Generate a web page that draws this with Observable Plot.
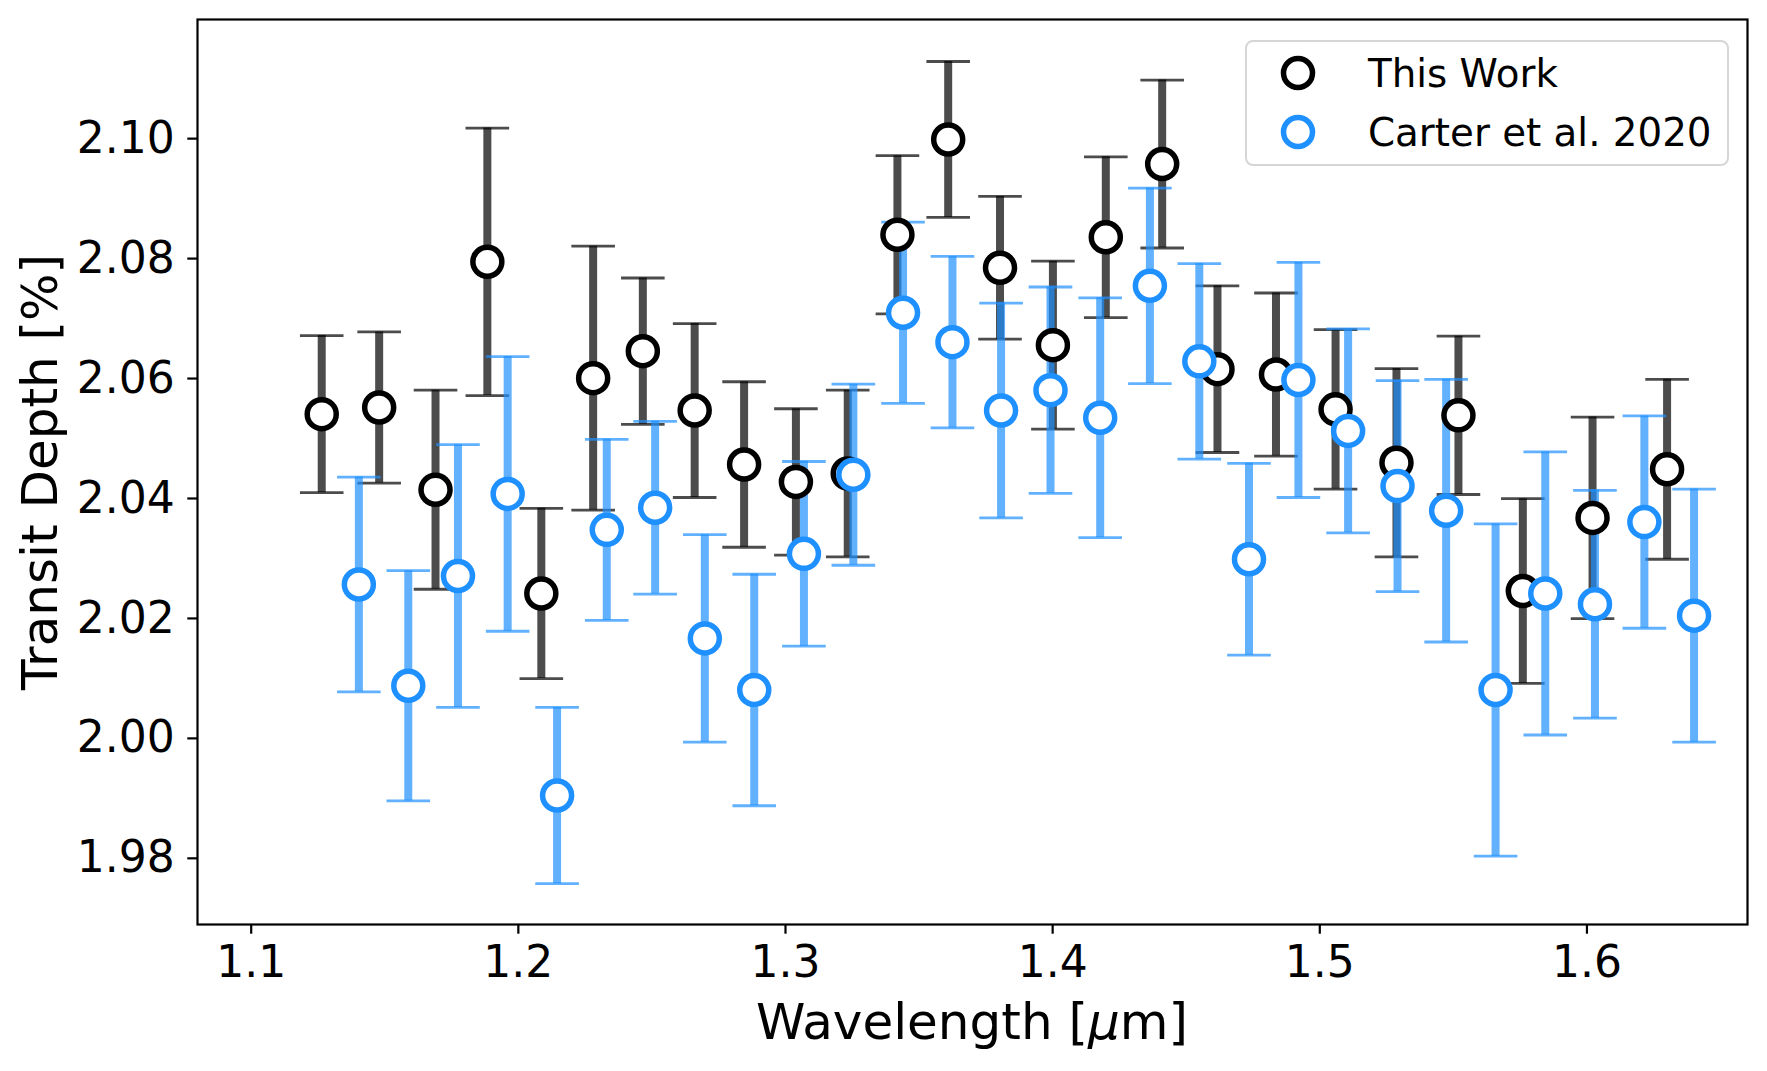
<!DOCTYPE html>
<html>
<head>
<meta charset="utf-8">
<script src="https://cdn.jsdelivr.net/npm/d3@7"></script>
<script src="https://cdn.jsdelivr.net/npm/@observablehq/plot@0.6"></script>
<style>
  html, body { margin: 0; padding: 0; background: #ffffff; }
  #wrap { position: relative; width: 1767px; height: 1071px; font-family: "DejaVu Sans", sans-serif; }
  #legend { position: absolute; left: 1245px; top: 40px; width: 480px; height: 122px;
            border: 2.2px solid #d6d6d6; border-radius: 8px; background: rgba(255,255,255,0.8); }
</style>
</head>
<body>
<div id="wrap"></div>
<script>
// ---- Data: This Work ----
const thisWave = [1.1264, 1.1479, 1.1690, 1.1884, 1.2086, 1.2280, 1.2466, 1.2660, 1.2845, 1.3039, 1.3233, 1.3419, 1.3609, 1.3803, 1.4001, 1.4199, 1.4410, 1.4617, 1.4836, 1.5059, 1.5287, 1.5519, 1.5760, 1.6021, 1.6300];
const thisDepth = [2.0539, 2.0550, 2.0413, 2.0793, 2.0240, 2.0599, 2.0644, 2.0545, 2.0455, 2.0426, 2.0440, 2.0838, 2.0997, 2.0783, 2.0654, 2.0834, 2.0956, 2.0614, 2.0605, 2.0547, 2.0458, 2.0537, 2.0244, 2.0366, 2.0447];
const thisErr = [0.0131, 0.0126, 0.0166, 0.0223, 0.0142, 0.0220, 0.0122, 0.0145, 0.0138, 0.0122, 0.0139, 0.0132, 0.0130, 0.0119, 0.0140, 0.0134, 0.0140, 0.0139, 0.0136, 0.0133, 0.0157, 0.0132, 0.0154, 0.0168, 0.0150];

// ---- Data: Carter et al. 2020 ----
const carterWave = [1.1403, 1.1588, 1.1774, 1.1960, 1.2145, 1.2331, 1.2512, 1.2698, 1.2883, 1.3069, 1.3254, 1.3440, 1.3625, 1.3807, 1.3992, 1.4178, 1.4364, 1.4549, 1.4735, 1.4920, 1.5106, 1.5291, 1.5473, 1.5658, 1.5844, 1.6030, 1.6215, 1.6401];
const carterDepth = [2.0255, 2.0086, 2.0269, 2.0406, 1.9903, 2.0346, 2.0383, 2.0165, 2.0079, 2.0306, 2.0438, 2.0708, 2.0659, 2.0545, 2.0579, 2.0533, 2.0753, 2.0627, 2.0297, 2.0596, 2.0511, 2.0419, 2.0378, 2.0079, 2.0240, 2.0222, 2.0359, 2.0203];
const carterErr = [0.0179, 0.0192, 0.0219, 0.0229, 0.0147, 0.0151, 0.0144, 0.0173, 0.0193, 0.0154, 0.0151, 0.0151, 0.0143, 0.0179, 0.0172, 0.0200, 0.0163, 0.0163, 0.0160, 0.0196, 0.0170, 0.0176, 0.0219, 0.0277, 0.0236, 0.0190, 0.0177, 0.0211];

// ---- Axes ----
const xTicks = [1.1, 1.2, 1.3, 1.4, 1.5, 1.6];
const yTicks = [1.98, 2.00, 2.02, 2.04, 2.06, 2.08, 2.10];
const xLabelParts = ["Wavelength [", "μ", "m]"];
const yLabel = "Transit Depth [%]";
const seriesNames = ["This Work", "Carter et al. 2020"];

const thisData = thisWave.map((w, i) => ({wl: w, depth: thisDepth[i], err: thisErr[i]}));
const carterData = carterWave.map((w, i) => ({wl: w, depth: carterDepth[i], err: carterErr[i]}));

const BLACK = "#000000";
const BLUE = "#1e90ff";

const capSymbol = {
  draw(ctx, size) {
    const r = Math.sqrt(size / Math.PI);
    ctx.moveTo(-r, 0);
    ctx.lineTo(r, 0);
  }
};

function errMarks(data, color) {
  return [
    Plot.ruleX(data, {x: "wl", y1: d => d.depth - d.err, y2: d => d.depth + d.err,
      stroke: color, strokeOpacity: 0.7, strokeWidth: 8}),
    Plot.dot(data, {x: "wl", y: d => d.depth + d.err, symbol: capSymbol, r: 21.8,
      fill: "none", stroke: color, strokeOpacity: 0.7, strokeWidth: 2.8}),
    Plot.dot(data, {x: "wl", y: d => d.depth - d.err, symbol: capSymbol, r: 21.8,
      fill: "none", stroke: color, strokeOpacity: 0.7, strokeWidth: 2.8})
  ];
}

const chart = Plot.plot({
  width: 1767,
  height: 1071,
  marginLeft: 197,
  marginRight: 20,
  marginTop: 19,
  marginBottom: 147,
  style: {fontFamily: "DejaVu Sans, sans-serif", color: "#000", background: "#fff", overflow: "visible"},
  x: {domain: [1.0799, 1.6601]},
  y: {domain: [1.9688, 2.1197]},
  marks: [
    ...errMarks(thisData, BLACK),
    ...errMarks(carterData, BLUE),
    Plot.dot(thisData, {x: "wl", y: "depth", r: 14.5, fill: "white", stroke: BLACK, strokeWidth: 5.5}),
    Plot.dot(carterData, {x: "wl", y: "depth", r: 14.5, fill: "white", stroke: BLUE, strokeWidth: 5.5}),
    Plot.frame({stroke: "black", strokeWidth: 2.2}),
    Plot.axisX({ticks: xTicks, tickFormat: d3.format(".1f"), tickSize: 9.7, tickPadding: 12,
      fontSize: 44, strokeWidth: 2.2, label: null}),
    Plot.axisY({ticks: yTicks, tickFormat: d3.format(".2f"), tickSize: 9.7, tickPadding: 13,
      fontSize: 44, strokeWidth: 2.2, label: null, dy: 1}),
    Plot.text([yLabel], {frameAnchor: "left", textAnchor: "middle", lineAnchor: "bottom",
      rotate: -90, dx: -141, fontSize: 50, fill: "black"})
  ]
});

const wrap = document.getElementById("wrap");
wrap.appendChild(chart);

// x-axis title with italic mu (mathtext style)
const xr = chart.scale("x").range;
const yr = chart.scale("y").range;
const xt = d3.select(chart).append("text")
  .attr("x", (xr[0] + xr[1]) / 2)
  .attr("y", Math.max(yr[0], yr[1]) + 114.6)
  .attr("text-anchor", "middle")
  .attr("font-size", 50)
  .attr("font-family", "DejaVu Sans, sans-serif")
  .attr("fill", "black");
xLabelParts.forEach((p, i) => {
  xt.append("tspan").attr("font-style", i === 1 ? "italic" : "normal").text(p);
});

// Legend (inside the axes, upper right)
const legend = document.createElement("div");
legend.id = "legend";
const colors = [BLACK, BLUE];
const ys = [31, 90];
let svg = `<svg width="480" height="122" style="position:absolute;left:0;top:0;overflow:visible">`;
seriesNames.forEach((name, i) => {
  svg += `<circle cx="51" cy="${ys[i]}" r="14.5" fill="white" stroke="${colors[i]}" stroke-width="5.5"/>`;
  svg += `<text x="121" y="${ys[i] + 14}" font-size="38.8" font-family="DejaVu Sans, sans-serif" fill="#000">${name}</text>`;
});
svg += `</svg>`;
legend.innerHTML = svg;
wrap.appendChild(legend);
</script>
</body>
</html>
